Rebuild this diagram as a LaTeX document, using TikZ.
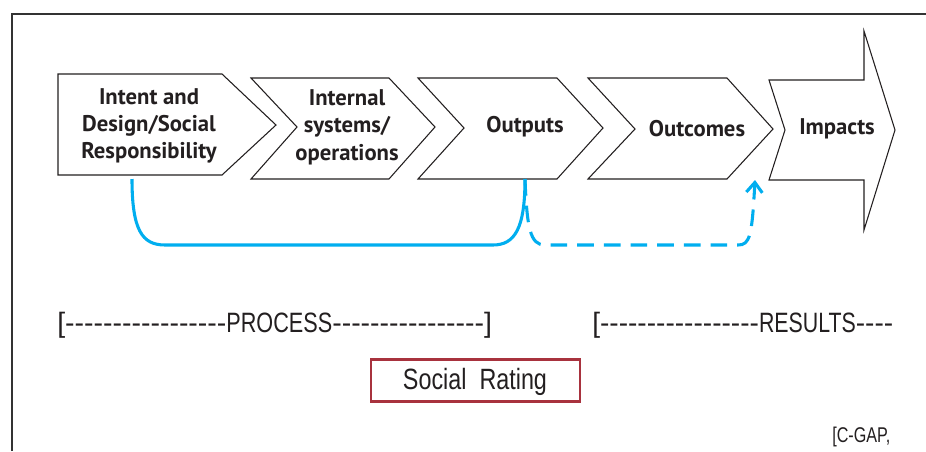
\documentclass[tikz,border=0pt]{standalone}
\usepackage{fontspec}
\usepackage{graphicx}
\setmainfont{PT Sans}
\newfontfamily\lightfont{Liberation Sans}
\usetikzlibrary{arrows.meta}
\definecolor{ink}{HTML}{231F20}
\definecolor{cyanline}{HTML}{00AEEF}
\definecolor{boxred}{HTML}{A8323E}
\definecolor{framegray}{HTML}{333333}
\newcommand\dd{-\kern0pt}
\begin{document}
\begin{tikzpicture}[x=0.75pt,y=-0.75pt,
  frame/.style={draw=framegray,line width=1.6pt},
  chev/.style={draw=ink,line width=0.8pt,fill=white,line join=miter},
  lab/.style={text=ink,font=\fontsize{17}{20.5}\selectfont\bfseries,align=center,inner sep=0pt},
  lite/.style={text=ink,font=\lightfont\fontsize{21}{23}\selectfont,inner sep=0pt},
  link/.style={draw=cyanline,line width=2.3pt},
  dlink/.style={draw=cyanline,line width=2.3pt,dash pattern=on 12.5pt off 7.5pt},
  ratebox/.style={draw=boxred,line width=1.6pt,minimum width=156.75pt,minimum height=31.5pt,inner sep=0pt}]
\useasboundingbox (0,0) rectangle (926,451);
\fill[white] (0,0) rectangle (926,451);
% frame
\draw[frame] (12,451) -- (12,14) -- (926,14);
% shapes
\draw[chev] (58,74) -- (222,74) -- (276,125) -- (222,175) -- (58,175) -- cycle;
\draw[chev] (251,78) -- (389,78) -- (435,127) -- (389,179) -- (251,179) -- (297,127) -- cycle;
\draw[chev] (418,78) -- (557,78) -- (603,128) -- (557,179) -- (418,179) -- (464,128) -- cycle;
\draw[chev] (588,78) -- (727,78) -- (773,129) -- (727,179) -- (588,179) -- (635,129) -- cycle;
\draw[chev] (769,80) -- (864,80) -- (864,31) -- (895,130) -- (864,230) -- (864,180) -- (769,180) -- (785,130) -- cycle;
% labels
\node[lab] (intent) at (149,126) {Intent and\\Design/Social\\Responsibility};
\node[lab] (internal) at (347,127) {Internal\\systems/\\operations};
\node[lab] (outputs) at (525,127) {Outputs};
\node[lab] (outcomes) at (697,129) {Outcomes};
\node[lab] (impacts) at (837,129) {Impacts};
% connector ends
\coordinate (intentb) at (132,179);
\coordinate (outputsb) at (525,179);
\coordinate (outcomesb) at (755,180);
\draw[link] (intentb) .. controls (132,230) and (142,245) .. (165,245) -- (493,245) .. controls (515,245) and (525,228) .. (outputsb);
\draw[dlink,-{Straight Barb[length=7.5pt,width=12pt,line width=2.3pt]}] (outputsb) .. controls (527,228) and (530,245) .. (545,245) -- (738,245) .. controls (750,245) and (752,236) .. (outcomesb);
% bottom texts
\node[lite,anchor=west] (process) at (57,325) {\resizebox{326pt}{\height}{[\dd\dd\dd\dd\dd\dd\dd\dd\dd\dd\dd\dd\dd\dd\dd\dd\dd\scalebox{0.76}[1]{PROCESS}\dd\dd\dd\dd\dd\dd\dd\dd\dd\dd\dd\dd\dd\dd\dd\dd]}};
\node[lite,anchor=west] (results) at (592,325) {\resizebox{225.75pt}{\height}{[\dd\dd\dd\dd\dd\dd\dd\dd\dd\dd\dd\dd\dd\dd\dd\dd\dd\scalebox{0.76}[1]{RESULTS}\dd\dd\dd\dd}};
\node[ratebox] (rating) at (475.5,380.5) {};
\node[lite,font=\lightfont\fontsize{22}{24}\selectfont] (ratingtext) at (475,382) {\resizebox{108pt}{\height}{Social\ \ Rating}};
\node[lite,anchor=west,font=\lightfont\fontsize{16}{18}\selectfont] (cgap) at (832,437) {\resizebox{43.5pt}{\height}{[C-GAP,}};
\end{tikzpicture}
\end{document}
